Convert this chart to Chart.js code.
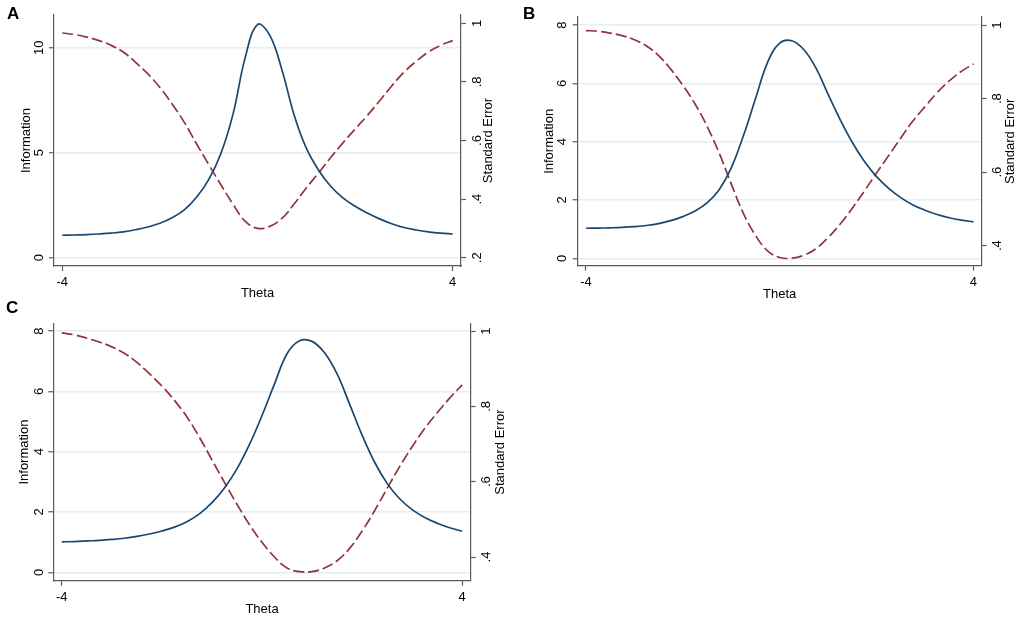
<!DOCTYPE html>
<html>
<head>
<meta charset="utf-8">
<script src="https://cdn.jsdelivr.net/npm/chart.js@4.4.1/dist/chart.umd.min.js"></script>
<style>
  body { margin: 0; background: #fff; width: 1021px; height: 622px; position: relative; overflow: hidden;
         font-family: "Liberation Sans", Arial, sans-serif; }
  canvas { position: absolute; }
  .tag { position: absolute; font-weight: bold; font-size: 17px; line-height: 1; color: #000; }
</style>
</head>
<body>
<canvas id="chartA" width="510" height="310" style="left:0;top:0"></canvas>
<canvas id="chartB" width="501" height="310" style="left:520px;top:0"></canvas>
<canvas id="chartC" width="510" height="312" style="left:0;top:310px"></canvas>
<div class="tag" style="left:7px;top:5px">A</div>
<div class="tag" style="left:523px;top:5px">B</div>
<div class="tag" style="left:6px;top:299px">C</div>
<script>
/* Data */
const theta = [-4, -3.75, -3.5, -3.25, -3, -2.75, -2.5, -2.25, -2, -1.75, -1.5, -1.25, -1, -0.75, -0.5, -0.25,
               0, 0.25, 0.5, 0.75, 1, 1.25, 1.5, 1.75, 2, 2.25, 2.5, 2.75, 3, 3.25, 3.5, 3.75, 4];

const infoA = [1.07, 1.08, 1.10, 1.13, 1.17, 1.23, 1.33, 1.46, 1.64, 1.90, 2.28, 2.88, 3.72, 4.96, 6.85, 9.55,
               11.10, 10.60, 8.95, 6.80, 5.22, 4.18, 3.40, 2.85, 2.45, 2.13, 1.85, 1.62, 1.44, 1.32, 1.23, 1.17, 1.13];
const seA   = [0.967, 0.962, 0.953, 0.941, 0.925, 0.902, 0.867, 0.828, 0.781, 0.725, 0.662, 0.589, 0.518, 0.449, 0.382, 0.324,
               0.300, 0.307, 0.334, 0.383, 0.438, 0.489, 0.542, 0.592, 0.639, 0.685, 0.735, 0.786, 0.833, 0.870, 0.902, 0.925, 0.941];

const infoB = [1.03, 1.035, 1.045, 1.06, 1.085, 1.125, 1.19, 1.29, 1.43, 1.62, 1.90, 2.35, 3.10, 4.20, 5.47, 6.72,
               7.38, 7.46, 7.15, 6.52, 5.62, 4.75, 3.97, 3.32, 2.80, 2.40, 2.08, 1.83, 1.65, 1.50, 1.39, 1.31, 1.25];
const seB   = [0.985, 0.983, 0.978, 0.971, 0.960, 0.943, 0.917, 0.880, 0.836, 0.786, 0.725, 0.652, 0.568, 0.488, 0.428, 0.386,
               0.368, 0.366, 0.374, 0.392, 0.422, 0.459, 0.502, 0.549, 0.598, 0.645, 0.693, 0.739, 0.778, 0.816, 0.848, 0.874, 0.894];

const infoC = [1.01, 1.02, 1.04, 1.06, 1.09, 1.13, 1.19, 1.27, 1.37, 1.50, 1.68, 1.94, 2.31, 2.80, 3.43, 4.24,
               5.20, 6.25, 7.25, 7.68, 7.66, 7.28, 6.58, 5.58, 4.55, 3.65, 2.95, 2.44, 2.08, 1.82, 1.63, 1.48, 1.36];
const seC   = [0.995, 0.990, 0.981, 0.971, 0.958, 0.941, 0.917, 0.887, 0.854, 0.816, 0.772, 0.718, 0.658, 0.598, 0.540, 0.486,
               0.439, 0.400, 0.371, 0.361, 0.361, 0.371, 0.390, 0.423, 0.469, 0.523, 0.582, 0.640, 0.693, 0.741, 0.783, 0.822, 0.857];

/* Tick labels */
const thetaTicks = [-4, 4];
const infoTicksA = [0, 5, 10];
const infoTicksBC = [0, 2, 4, 6, 8];
const seTicksA = [0.2, 0.4, 0.6, 0.8, 1];
const seTicksBC = [0.4, 0.6, 0.8, 1];

const NAVY = '#1a476f';
const MAROON = '#90353b';
const AXIS = '#5a5a5a';
const GRID = '#e6eef0';
const FONT = '"Liberation Sans", Arial, sans-serif';

Chart.defaults.font.family = FONT;
Chart.defaults.font.size = 13;
Chart.defaults.color = '#000';

/* Right axis title reads bottom-to-top like the left one */
const seTitle = {
    id: 'seTitle',
    afterDraw(chart, args, opts) {
        const {ctx, chartArea} = chart;
        ctx.save();
        ctx.translate(chartArea.right + opts.offset, (chartArea.top + chartArea.bottom) / 2);
        ctx.rotate(-Math.PI / 2);
        ctx.font = '13px ' + FONT;
        ctx.fillStyle = '#000';
        ctx.textAlign = 'center';
        ctx.textBaseline = 'middle';
        ctx.fillText('Standard Error', 0, 0);
        ctx.restore();
    }
};

const setTicks = list => scale => { scale.ticks = list.map(v => ({value: v})); };

function makePanel(id, p, info, se) {
    return new Chart(id, {
        type: 'line',
        data: {
            datasets: [
                {
                    data: theta.map((t, i) => ({x: t, y: info[i]})),
                    yAxisID: 'y',
                    borderColor: NAVY,
                    borderWidth: 1.7,
                    pointRadius: 0,
                    tension: 0.4
                },
                {
                    data: theta.map((t, i) => ({x: t, y: se[i]})),
                    yAxisID: 'se',
                    borderColor: MAROON,
                    borderWidth: 1.7,
                    borderDash: [11, 4],
                    pointRadius: 0,
                    tension: 0.4
                }
            ]
        },
        plugins: [seTitle],
        options: {
            responsive: false,
            animation: false,
            layout: {padding: {top: p.top, left: 0, right: 0, bottom: 0}, autoPadding: false},
            scales: {
                x: {
                    type: 'linear',
                    min: -4.17,
                    max: 4.17,
                    afterBuildTicks: setTicks(thetaTicks),
                    afterFit: s => { s.height = p.H - p.bottom; },
                    grid: {drawOnChartArea: false, tickLength: 5, tickColor: AXIS, tickWidth: 1.2},
                    border: {color: AXIS, width: 1.2},
                    ticks: {padding: 3.9, maxRotation: 0, autoSkip: false, callback: v => String(v)},
                    title: {display: true, text: 'Theta', padding: {top: 0, bottom: p.xTitlePad}}
                },
                y: {
                    position: 'left',
                    min: p.yMin,
                    max: p.yMax,
                    afterBuildTicks: setTicks(p.infoTicks),
                    afterFit: s => { s.width = p.left; },
                    grid: {color: GRID, lineWidth: 1.5, tickLength: 5, tickColor: AXIS, tickWidth: 1.2},
                    border: {color: AXIS, width: 1.2},
                    ticks: {minRotation: 90, maxRotation: 90, crossAlign: 'center', padding: p.yPad,
                            callback: v => String(v)},
                    title: {display: true, text: 'Information', padding: {top: p.infoTitlePad, bottom: 0}}
                },
                se: {
                    position: 'right',
                    min: p.seMin,
                    max: p.seMax,
                    afterBuildTicks: setTicks(p.seTicks),
                    afterFit: s => { s.width = p.W - p.right; },
                    grid: {drawOnChartArea: false, tickLength: 5, tickColor: AXIS, tickWidth: 1.2},
                    border: {color: AXIS, width: 1.2},
                    ticks: {minRotation: 90, maxRotation: 90, crossAlign: 'center', padding: 5.6,
                            callback: v => String(v).replace(/^0\./, '.')}
                }
            },
            plugins: {
                legend: {display: false},
                tooltip: {enabled: false},
                seTitle: {offset: p.seTitleOff}
            }
        }
    });
}

makePanel('chartA', {
    W: 510, H: 310, left: 54, right: 461, top: 15, bottom: 266,
    yMin: -0.395, yMax: 11.557, seMin: 0.1717, seMax: 1.0284,
    infoTicks: infoTicksA, seTicks: seTicksA,
    yPad: 2.5, infoTitlePad: 18.2, xTitlePad: 8.9, seTitleOff: 27
}, infoA, seA);

makePanel('chartB', {
    W: 501, H: 310, left: 57.7, right: 461.7, top: 17, bottom: 265.7,
    yMin: -0.254, yMax: 8.275, seMin: 0.3456, seMax: 1.0218,
    infoTicks: infoTicksBC, seTicks: seTicksBC,
    yPad: 6.8, infoTitlePad: 21.5, xTitlePad: 8.2, seTitleOff: 28.3
}, infoB, seB);

makePanel('chartC', {
    W: 510, H: 312, left: 53.3, right: 470.7, top: 13.3, bottom: 270.7,
    yMin: -0.2785, yMax: 8.256, seMin: 0.3371, seMax: 1.0204,
    infoTicks: infoTicksBC, seTicks: seTicksBC,
    yPad: 5.4, infoTitlePad: 16.2, xTitlePad: 4.9, seTitleOff: 29.3
}, infoC, seC);
</script>
</body>
</html>
